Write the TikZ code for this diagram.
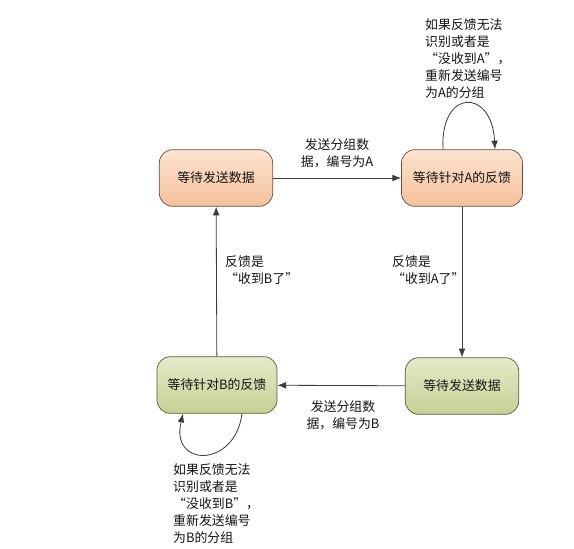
\documentclass[tikz,border=0pt]{standalone}
\usepackage{fontspec}
\setmainfont{Noto Sans CJK SC}
\usetikzlibrary{arrows.meta}
\definecolor{peachtop}{RGB}{252,228,208}
\definecolor{peachbot}{RGB}{245,192,154}
\definecolor{peachline}{RGB}{95,80,70}
\definecolor{olivetop}{RGB}{229,233,200}
\definecolor{olivebot}{RGB}{198,209,148}
\definecolor{oliveline}{RGB}{85,95,60}
\definecolor{wireline}{RGB}{60,60,60}

\begin{document}
\begin{tikzpicture}[x=0.03cm,y=-0.03cm,
  every node/.style={font=\fontsize{11pt}{14.5pt}\selectfont,text=black!92},
  statebox/.style={draw,rounded corners=4mm,line width=0.6pt,minimum height=1.7cm},
  peachbox/.style={statebox,draw=peachline,top color=peachtop,bottom color=peachbot,minimum width=3.4cm},
  olivebox/.style={statebox,draw=oliveline,top color=olivetop,bottom color=olivebot,minimum width=3.4cm},
  note/.style={inner sep=0pt,align=left},
  wire/.style={draw=wireline,line width=0.7pt,-{Latex[length=2.6mm,width=2mm]}}]
\useasboundingbox (0,0) rectangle (574,549);
\node[peachbox] (sendA) at (216,178) {等待发送数据};
\node[peachbox,minimum width=3.63cm] (waitA) at (462,178) {等待针对A的反馈};
\node[olivebox] (sendB) at (462,386) {等待发送数据};
\node[olivebox,minimum width=3.6cm] (waitB) at (217,385) {等待针对B的反馈};
% labels
\node[note,align=center] (lblA) at (337,153) {发送分组数\\据，编号为A};
\node[note,align=center] (lblB) at (343,415) {发送分组数\\据，编号为B};
\node[note,anchor=north west] (gotA) at (392,255) {反馈是\\“收到A了”};
\node[note,anchor=north west] (gotB) at (225,255) {反馈是\\“收到B了”};
\node[note,anchor=north west] (retryA) at (425,18) {如果反馈无法\\识别或者是\\“没收到A”，\\重新发送编号\\为A的分组};
\node[note,anchor=north west] (retryB) at (173,463) {如果反馈无法\\识别或者是\\“没收到B”，\\重新发送编号\\为B的分组};
% transitions
\draw[wire] (sendA) -- (waitA);
\draw[wire] (waitA) -- (sendB);
\draw[wire] (sendB) -- (waitB);
\draw[wire] (waitB) -- (sendA);
\draw[wire] ([xshift=-0.57cm]waitA.north) .. controls (440,88) and (492,88) .. ([xshift=0.99cm]waitA.north);
\draw[wire] ([xshift=0.75cm]waitB.south) .. controls (235,468) and (170,468) .. ([xshift=-1.02cm]waitB.south);
\end{tikzpicture}
\end{document}
